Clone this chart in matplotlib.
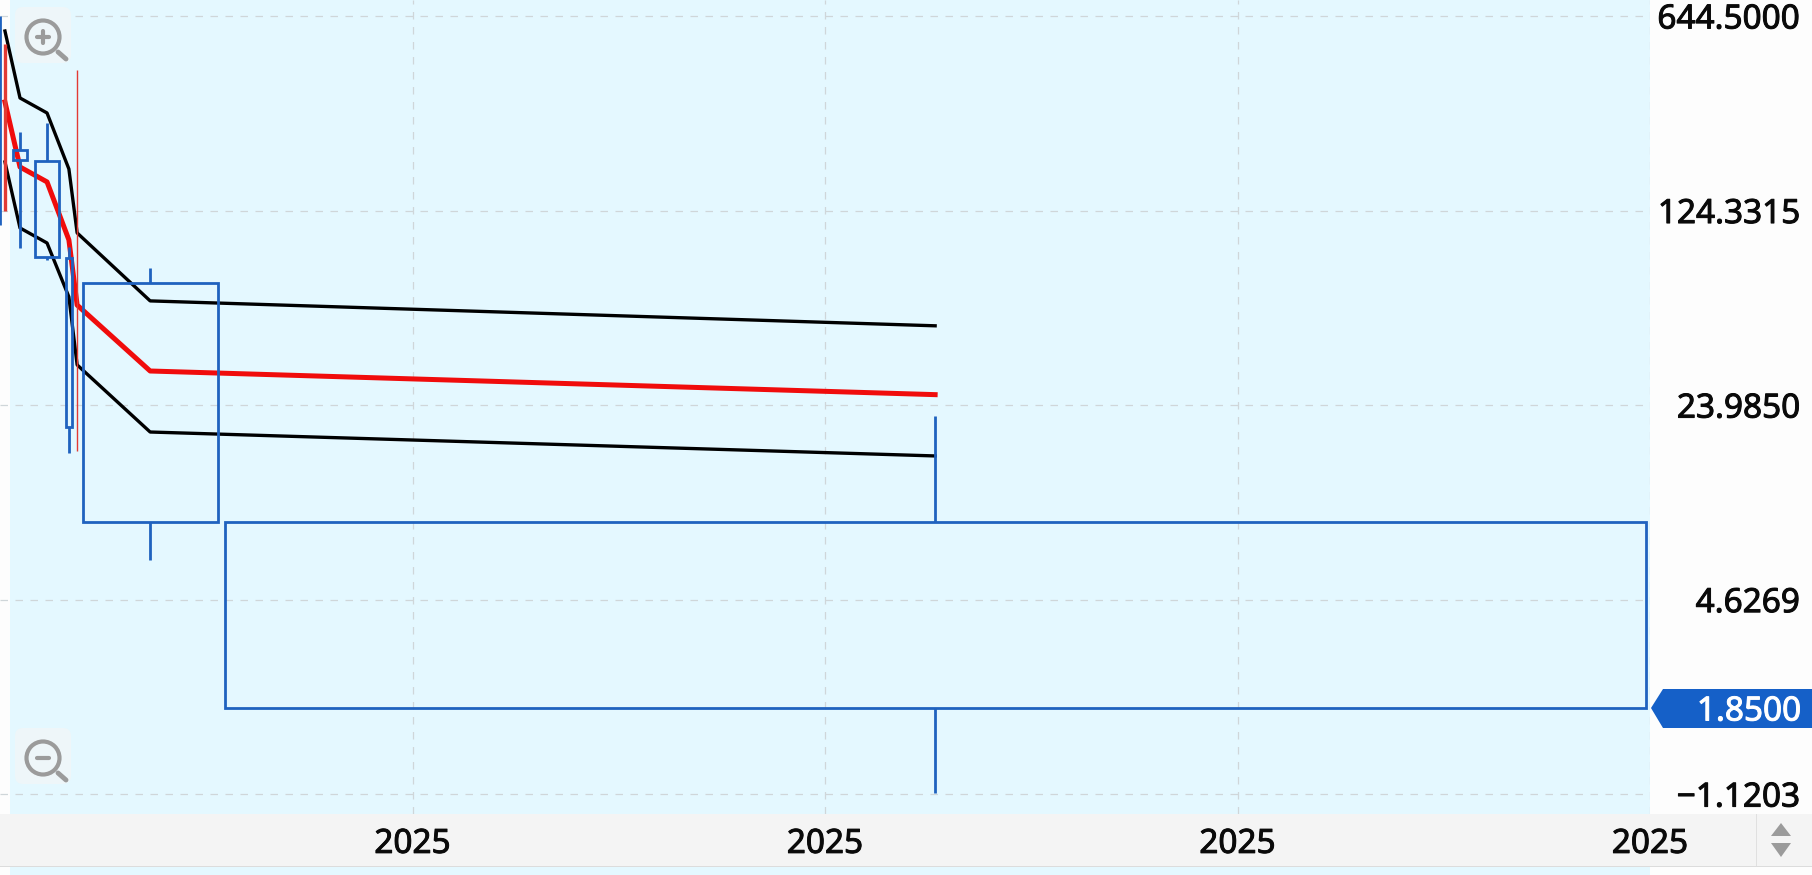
import matplotlib
matplotlib.use("Agg")
import matplotlib.pyplot as plt
import matplotlib.patheffects as pe
from matplotlib.patches import Rectangle, Polygon, Circle, FancyBboxPatch
from matplotlib.lines import Line2D
from matplotlib.transforms import Affine2D
from matplotlib.ticker import NullLocator

W, H = 1812, 875

# candles: position, width, open/close, high/low
candle_x = [0.12, 1.2, 4.85, 11.4, 16.7, 18.7, 36.4, 226.7]
candle_w = [0.0, 0.0, 3.6, 5.8, 1.5, 0.0, 32.7, 344.5]
body_top = [110.1, 124.3, 207.6, 189.1, 83.3, 16.3, 67.4, 8.93]
body_bot = [110.1, 124.3, 190.7, 84.0, 19.95, 16.3, 8.93, 1.85]
wick_high = [644.5, 508.6, 241.7, 260.8, 91.4, 408.2, 76.5, 21.9]
wick_low = [110.1, 124.3, 90.6, 81.9, 16.0, 16.3, 6.48, 0.90]
candle_color = ["blue", "red", "blue", "blue", "blue", "red", "blue", "blue"]
wick_width = [2.0, 2.4, 2.0, 2.0, 2.0, 1.0, 2.0, 2.0]

# bands
band_x = [1.2, 4.85, 11.4, 16.7, 18.7, 36.4, 226.7]
band_upper = [567.7, 322.2, 283.8, 176.7, 102.9, 57.9, 46.9]
band_mid = [311.5, 179.7, 158.4, 97.0, 55.9, 32.0, 26.2]
band_lower = [187.6, 107.3, 94.5, 59.9, 33.7, 19.1, 15.6]

# the lowest tick sits at 0.8932 on the log scale but reads -1.1203
y_ticks = [644.5, 124.3315, 23.985, 4.6269, 0.8932]
y_labels = ["644.5000", "124.3315", "23.9850", "4.6269", "\u22121.1203"]
x_ticks = [100, 200, 300, 400]
x_labels = ["2025", "2025", "2025", "2025"]
last_label = "1.8500"

BLUE = "#1f62bf"
RED = "#f00c0c"
colors = {"blue": BLUE, "red": "#e23a34"}
GRID = "#cfd6d9"
ICON = "#9b9b9b"

plt.rcParams["font.family"] = ["Noto Sans", "DejaVu Sans"]
heavy = [pe.withStroke(linewidth=0.7, foreground="#0a0a0a")]

fig = plt.figure(figsize=(W / 100, H / 100), dpi=100, facecolor="#fdfdfd")
px = Affine2D().scale(1, -1).translate(0, H)  # pixel coords, y down


def add_px(artist):
    artist.set_transform(px)
    artist.set_zorder(-1)
    fig.add_artist(artist)


# backgrounds
add_px(Rectangle((9.5, 0), 1640.5, H, fc="#e4f8ff", ec="none"))
add_px(Rectangle((0, 814), W, 52, fc="#f4f4f4", ec="none"))
add_px(Rectangle((0, 865.5), W, 1.5, fc="#dcdcdc", ec="none"))
add_px(Rectangle((1755.5, 814), 1, 52, fc="#e0e0e0", ec="none"))

ax = fig.add_axes([0, (H - 814) / H, 1650 / W, 814 / H])
ax.patch.set_visible(False)
ax.set_yscale("log")
ax.set_xlim(0, 400)
ax.set_ylim(0.7548, 737.9)
for s in ax.spines.values():
    s.set_visible(False)

ax.set_yticks(y_ticks, y_labels)
ax.yaxis.set_minor_locator(NullLocator())
ax.yaxis.tick_right()
ax.tick_params(axis="y", length=0, pad=108, labelsize=24)
for t in ax.get_yticklabels():
    t.set_ha("right")
    t.set_color("#0a0a0a")
    t.set_path_effects(heavy)
ax.set_xticks(x_ticks, x_labels)
ax.tick_params(axis="x", length=0, pad=10, labelsize=24, labelcolor="#0a0a0a")
for t in ax.get_xticklabels():
    t.set_path_effects(heavy)
ax.grid(True, color=GRID, lw=0.9, ls=(0, (6, 6)))
ax.set_axisbelow(True)

ax.plot(band_x, band_upper, color="black", lw=2.4, zorder=3)
ax.plot(band_x, band_lower, color="black", lw=2.4, zorder=3)
ax.plot(band_x, band_mid, color=RED, lw=3.6, zorder=3)

for i in range(len(candle_x)):
    c = colors[candle_color[i]]
    x = candle_x[i]
    if candle_w[i] == 0:
        ax.vlines(x, wick_low[i], wick_high[i], color=c, lw=wick_width[i], zorder=4)
        continue
    ax.vlines(x, body_top[i], wick_high[i], color=c, lw=wick_width[i], zorder=4)
    ax.vlines(x, wick_low[i], body_bot[i], color=c, lw=wick_width[i], zorder=4)
    ax.add_patch(Rectangle((x - candle_w[i] / 2, body_bot[i]), candle_w[i],
                           body_top[i] - body_bot[i], fc="none", ec=c, lw=2.0, zorder=4))

# last price tag
fig.add_artist(Polygon([(1651, 708), (1663, 689), (W, 689), (W, 728), (1663, 728)],
                       closed=True, fc="#1560c8", ec="none", transform=px, zorder=5))
fig.text(1801 / W, 1 - 708 / H, last_label, ha="right", va="center_baseline", color="white",
         fontsize=24, zorder=6, path_effects=[pe.withStroke(linewidth=0.7, foreground="white")])


# zoom buttons
def zoom_icon(cx, cy, plus):
    fig.add_artist(FancyBboxPatch((cx - 22, cy - 24), 44, 44,
                                  boxstyle="round,pad=6,rounding_size=8",
                                  fc="#eef6f9", ec="none", transform=px))
    fig.add_artist(Circle((cx, cy), 16.5, fc="none", ec=ICON, lw=3.0, transform=px))
    fig.add_artist(Line2D([cx + 15, cx + 23], [cy + 15, cy + 22], color=ICON, lw=3.5,
                          solid_capstyle="round", transform=px))
    fig.add_artist(Line2D([cx - 6, cx + 6], [cy, cy], color=ICON, lw=3.0,
                          solid_capstyle="round", transform=px))
    if plus:
        fig.add_artist(Line2D([cx, cx], [cy - 6, cy + 6], color=ICON, lw=3.0,
                              solid_capstyle="round", transform=px))


zoom_icon(43, 37, True)
zoom_icon(43, 758, False)

# scroll arrows in the axis strip
fig.add_artist(Polygon([(1771, 836), (1791, 836), (1781, 823)], closed=True, fc=ICON, ec="none", transform=px))
fig.add_artist(Polygon([(1771, 843), (1791, 843), (1781, 857)], closed=True, fc=ICON, ec="none", transform=px))

fig.savefig("out.png", dpi=100)
